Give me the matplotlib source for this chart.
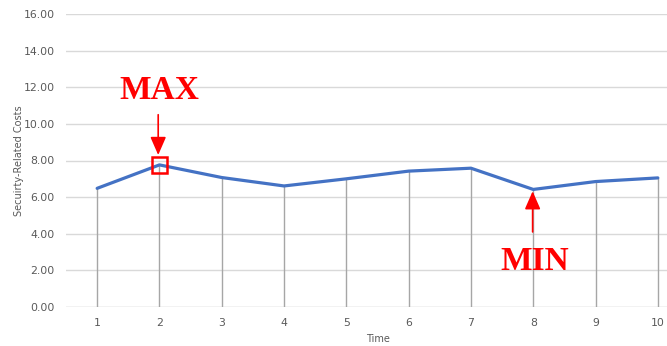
import matplotlib
matplotlib.use("Agg")
import matplotlib.pyplot as plt
from matplotlib.patches import Rectangle

time = [1, 2, 3, 4, 5, 6, 7, 8, 9, 10]
costs = [6.48, 7.76, 7.07, 6.61, 7.00, 7.42, 7.58, 6.42, 6.85, 7.05]
yticks = [0, 2, 4, 6, 8, 10, 12, 14, 16]

fig = plt.figure(figsize=(6.67, 3.46), dpi=100)
ax = fig.add_axes([66/667, 1-307/346, 623/667, 293/346])
ax.set_xlim(0.5, 10.5)
ax.set_ylim(0, 16)

for y in yticks:
    ax.axhline(y, color="#D9D9D9" if y else "#BFBFBF", lw=1, zorder=0)
ax.vlines(time, 0, costs, color="#A6A6A6", lw=1, zorder=1)
ax.plot(time, costs, color="#4472C4", lw=2.3, solid_capstyle="round", zorder=3)

for s in ax.spines.values():
    s.set_visible(False)
ax.set_yticks(yticks)
ax.set_yticklabels([f"{v:.2f}" for v in yticks])
ax.set_xticks(time)
ax.tick_params(length=0, labelsize=7.8, colors="#595959", pad=8)
ax.set_ylabel("Secuirty-Related Costs", fontsize=7, color="#595959", labelpad=0)
ax.yaxis.set_label_coords(-0.068, 0.5)
ax.set_xlabel("Time", fontsize=7, color="#595959", labelpad=4)

# MAX annotation
imax = costs.index(max(costs))
imin = costs.index(min(costs))
ax.text(time[imax] + 0.0, 11.8, "MAX", family="Liberation Serif", weight="bold",
        color="red", fontsize=24, ha="center", va="center")
ax.annotate("", xy=(time[imax] - 0.02, 8.3), xytext=(time[imax] - 0.02, 10.5),
            arrowprops=dict(arrowstyle="-|>,head_width=0.48,head_length=1.1",
                            color="red", lw=1.2, shrinkA=0, shrinkB=0))
ax.add_patch(Rectangle((time[imax] - 0.12, costs[imax] - 0.45), 0.24, 0.87,
                       fill=False, edgecolor="red", lw=1.8, zorder=4))

# MIN annotation
ax.text(time[imin] + 0.03, 2.5, "MIN", family="Liberation Serif", weight="bold",
        color="red", fontsize=24, ha="center", va="center")
ax.annotate("", xy=(time[imin] - 0.01, costs[imin] - 0.1), xytext=(time[imin] - 0.01, 4.1),
            arrowprops=dict(arrowstyle="-|>,head_width=0.48,head_length=1.1",
                            color="red", lw=1.2, shrinkA=0, shrinkB=0))

fig.savefig("out.png", dpi=100)
